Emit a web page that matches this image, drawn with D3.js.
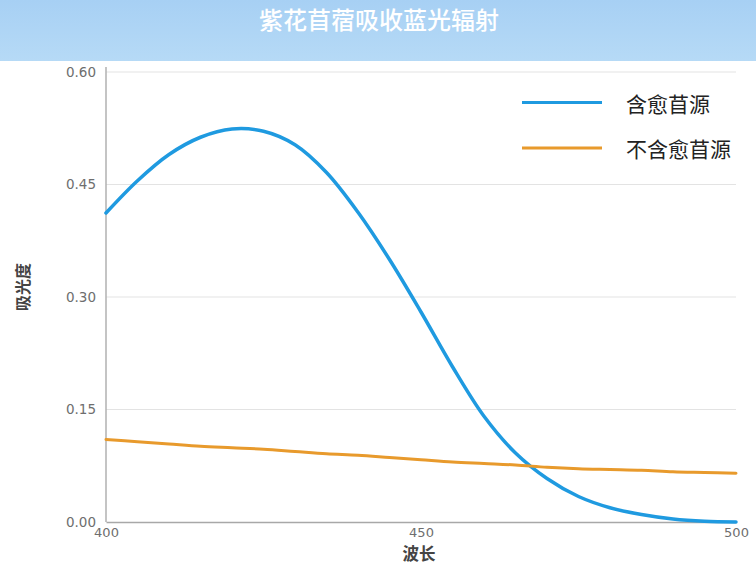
<!DOCTYPE html>
<html><head><meta charset="utf-8">
<script src="https://cdn.jsdelivr.net/npm/d3@7"></script>
<style>
html,body{margin:0;padding:0;background:#fff;}
svg{display:block;}
</style></head>
<body>
<svg id="chart" width="756" height="565"></svg>
<script>
const title = "紫花苜蓿吸收蓝光辐射";
const xLabel = "波长";
const yLabel = "吸光度";
const seriesNames = ["含愈苜源", "不含愈苜源"];
const seriesColors = ["#1f9ae0", "#e89a2c"];
const wavelengths = [400,405,410,415,420,425,430,435,440,445,450,455,460,465,470,475,480,485,490,495,500];
const withSource =  [0.412,0.455,0.490,0.513,0.524,0.521,0.503,0.466,0.413,0.350,0.280,0.207,0.141,0.092,0.058,0.034,0.019,0.010,0.004,0.001,0.000];
const withoutSource=[0.110,0.107,0.104,0.101,0.099,0.097,0.094,0.091,0.089,0.086,0.083,0.080,0.078,0.076,0.073,0.071,0.070,0.069,0.067,0.066,0.065];
const xTicks = [400,450,500];
const yTicks = [0.00,0.15,0.30,0.45,0.60];

const svg = d3.select("#chart");
const W = 756, H = 565;
const m = {left:106, right:20, top:72, bottom:43};

// header band
const defs = svg.append("defs");
const g1 = defs.append("linearGradient").attr("id","hdr").attr("x1",0).attr("y1",0).attr("x2",0).attr("y2",1);
g1.append("stop").attr("offset","0%").attr("stop-color","#a7d0f4");
g1.append("stop").attr("offset","100%").attr("stop-color","#b6daf6");
svg.append("rect").attr("x",0).attr("y",0).attr("width",W).attr("height",61).attr("fill","url(#hdr)");
svg.append("text").attr("x",379).attr("y",29).attr("text-anchor","middle")
  .attr("font-family","'Noto Sans CJK SC', sans-serif").attr("font-size",24).attr("font-weight",500)
  .attr("fill","#ffffff").text(title);

const x = d3.scaleLinear().domain([400,500]).range([m.left, W-m.right]);
const y = d3.scaleLinear().domain([0,0.6]).range([H-m.bottom, m.top]);

// grid
svg.append("g").selectAll("line").data(yTicks.filter(d=>d>0)).join("line")
  .attr("x1",x(400)).attr("x2",x(500)).attr("y1",d=>y(d)).attr("y2",d=>y(d))
  .attr("stroke","#e3e3e3").attr("stroke-width",1.2);

// axes
const yAxis = svg.append("g").attr("transform",`translate(${m.left},0)`)
  .call(d3.axisLeft(y).tickValues(yTicks).tickFormat(d3.format(".2f")).tickSize(0).tickPadding(10));
yAxis.select(".domain").attr("stroke","#b0b0b0").attr("stroke-width",1.5).attr("d",`M0,${y(0)}V${y(0.6)-5}`);
yAxis.selectAll("text").attr("font-family","'DejaVu Sans', sans-serif").attr("font-size",13.5).attr("fill","#6e6e6e");

const xAxis = svg.append("g").attr("transform",`translate(0,${y(0)})`)
  .call(d3.axisBottom(x).tickValues(xTicks).tickFormat(d3.format("d")).tickSize(0).tickPadding(6));
xAxis.select(".domain").attr("stroke","#a8a8a8").attr("stroke-width",1.5);
xAxis.selectAll("text").attr("font-family","'DejaVu Sans', sans-serif").attr("font-size",13).attr("fill","#6e6e6e");

// axis titles
svg.append("text").attr("x",419).attr("y",560).attr("text-anchor","middle")
  .attr("font-family","'Noto Sans CJK SC', sans-serif").attr("font-size",16.5).attr("font-weight",700)
  .attr("fill","#444").text(xLabel);
svg.append("text").attr("transform","translate(29,287) rotate(-90)").attr("text-anchor","middle")
  .attr("font-family","'Noto Sans CJK SC', sans-serif").attr("font-size",16).attr("font-weight",700)
  .attr("fill","#444").text(yLabel);

// lines
const line = d3.line().x(d=>x(d[0])).y(d=>y(d[1])).curve(d3.curveCatmullRom.alpha(0.5));
const series = [withSource, withoutSource];
series.forEach((vals,i)=>{
  svg.append("path").datum(wavelengths.map((w,j)=>[w,vals[j]]))
    .attr("d",line).attr("fill","none").attr("stroke",seriesColors[i])
    .attr("stroke-width",i===0?3.5:3).attr("stroke-linecap","round");
});

// legend
const lg = svg.append("g");
seriesNames.forEach((n,i)=>{
  const yy = 102.5 + i*45.5;
  lg.append("line").attr("x1",522).attr("x2",602).attr("y1",yy).attr("y2",yy)
    .attr("stroke",seriesColors[i]).attr("stroke-width",3);
  lg.append("text").attr("x",626).attr("y",yy+9).attr("font-family","'Noto Sans CJK SC', sans-serif")
    .attr("font-size",21).attr("fill","#222").text(n);
});
</script>
</body></html>
